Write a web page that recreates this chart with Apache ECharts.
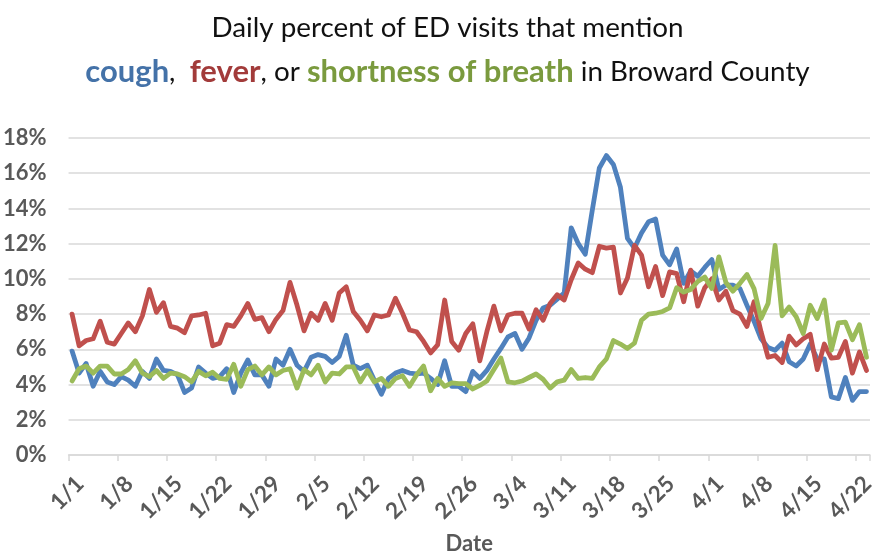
<!DOCTYPE html>
<html>
<head>
<meta charset="utf-8">
<script src="https://cdn.jsdelivr.net/npm/echarts@6/dist/echarts.min.js"></script>
<style>
html,body{margin:0;padding:0;background:#fff;}
#chart{width:895px;height:560px;}
</style>
</head>
<body>
<div id="chart"></div>
<script>
const dates = [
'1/1','1/2','1/3','1/4','1/5','1/6','1/7','1/8','1/9','1/10','1/11','1/12','1/13','1/14','1/15','1/16','1/17','1/18','1/19','1/20','1/21','1/22','1/23','1/24','1/25','1/26','1/27','1/28','1/29','1/30','1/31',
'2/1','2/2','2/3','2/4','2/5','2/6','2/7','2/8','2/9','2/10','2/11','2/12','2/13','2/14','2/15','2/16','2/17','2/18','2/19','2/20','2/21','2/22','2/23','2/24','2/25','2/26','2/27','2/28','2/29',
'3/1','3/2','3/3','3/4','3/5','3/6','3/7','3/8','3/9','3/10','3/11','3/12','3/13','3/14','3/15','3/16','3/17','3/18','3/19','3/20','3/21','3/22','3/23','3/24','3/25','3/26','3/27','3/28','3/29','3/30','3/31',
'4/1','4/2','4/3','4/4','4/5','4/6','4/7','4/8','4/9','4/10','4/11','4/12','4/13','4/14','4/15','4/16','4/17','4/18','4/19','4/20','4/21','4/22','4/23'
];

const cough = [
5.9,4.65,5.2,3.9,4.75,4.15,4.0,4.45,4.25,3.9,4.75,4.35,5.45,4.8,4.75,4.55,3.55,3.8,5.0,4.65,4.35,4.45,4.9,3.55,4.65,5.4,4.55,4.55,3.9,5.45,5.1,
6.0,5.1,4.75,5.55,5.7,5.6,5.25,5.6,6.8,5.1,4.9,5.1,4.25,3.45,4.35,4.65,4.8,4.65,4.6,4.65,4.35,4.0,5.35,3.9,3.9,3.6,4.75,4.35,
4.8,5.45,6.05,6.7,6.9,6.0,6.65,7.65,8.35,8.5,8.85,9.2,12.9,12.0,11.4,13.9,16.3,17.0,16.5,15.2,12.3,11.75,12.6,13.25,13.4,11.35,10.8,11.7,9.75,10.45,10.15,10.65,
11.1,9.4,9.65,9.65,9.45,8.5,7.6,6.6,6.1,5.95,6.35,5.3,5.05,5.45,6.3,5.45,5.45,3.3,3.2,4.4,3.1,3.6,3.6
];

const fever = [
8.0,6.2,6.5,6.6,7.6,6.4,6.3,6.9,7.5,7.0,7.9,9.4,8.1,8.65,7.3,7.2,6.95,7.9,7.95,8.05,6.2,6.35,7.4,7.3,7.9,8.6,7.7,7.8,7.0,7.7,8.2,
9.8,8.5,7.05,8.05,7.65,8.6,7.65,9.2,9.55,8.15,7.65,7.05,7.95,7.85,7.95,8.9,8.05,7.1,7.0,6.45,5.8,6.25,8.8,6.45,5.95,6.9,7.45,5.35,
7.0,8.45,7.05,7.95,8.05,8.05,7.15,8.25,7.65,8.6,9.1,8.8,9.95,10.9,10.55,10.35,11.85,11.75,11.8,9.2,10.05,11.9,11.35,9.55,10.7,9.05,10.4,10.3,8.7,10.5,8.45,9.5,
10.0,8.8,9.3,8.2,8.0,7.3,8.7,7.0,5.55,5.65,5.25,6.75,6.25,6.6,6.85,4.85,6.3,5.5,5.55,6.45,4.65,5.85,4.8
];

const breath = [
4.2,4.9,5.05,4.65,5.05,5.05,4.6,4.6,4.85,5.35,4.65,4.45,4.8,4.35,4.65,4.6,4.45,4.15,4.75,4.5,4.7,4.35,4.3,5.15,3.9,4.85,5.05,4.55,5.0,4.55,4.8,
4.9,3.8,4.85,4.55,5.1,4.15,4.65,4.6,5.0,5.0,4.15,4.8,4.15,4.35,3.9,4.35,4.5,3.9,4.55,5.05,3.65,4.35,3.9,4.1,4.05,4.05,3.75,3.95,
4.2,4.85,5.5,4.15,4.1,4.2,4.4,4.6,4.3,3.8,4.15,4.25,4.85,4.35,4.4,4.35,5.0,5.45,6.5,6.3,6.05,6.35,7.65,8.0,8.05,8.15,8.35,9.5,9.25,9.4,9.85,10.1,
9.45,11.25,9.8,9.3,9.75,10.25,9.45,7.75,8.6,11.9,7.9,8.4,7.85,6.9,8.5,7.75,8.8,5.95,7.5,7.55,6.55,7.4,5.55
];

const yTicks = {min: 0, max: 18, interval: 2};

const FONT = 'Lato, "Open Sans", sans-serif';
const GRAY = '#595959';

const chart = echarts.init(document.getElementById('chart'));

function lineSeries(name, data, color) {
  return {
    name: name,
    type: 'line',
    data: data,
    symbol: 'none',
    smooth: false,
    animation: false,
    lineStyle: {color: color, width: 4.8, join: 'round', cap: 'round'},
    itemStyle: {color: color}
  };
}

chart.setOption({
  animation: false,
  backgroundColor: '#fff',
  title: {
    left: 'center',
    top: 6,
    padding: 0,
    text: 'Daily percent of ED visits that mention\n{c|cough},  {f|fever}, or {s|shortness of breath} in Broward County',
    textStyle: {
      fontFamily: FONT,
      fontSize: 27.8,
      fontWeight: 'normal',
      color: '#111',
      lineHeight: 44,
      rich: {
        c: {fontFamily: FONT, fontSize: 31, fontWeight: 'bold', color: '#4472A8', lineHeight: 44},
        f: {fontFamily: FONT, fontSize: 31, fontWeight: 'bold', color: '#A23B3A', lineHeight: 44},
        s: {fontFamily: FONT, fontSize: 31, fontWeight: 'bold', color: '#7A9A3E', lineHeight: 44}
      }
    }
  },
  grid: {left: 66, right: 25, top: 138, bottom: 105, containLabel: false},
  xAxis: {
    type: 'category',
    data: dates,
    boundaryGap: true,
    name: 'Date',
    nameLocation: 'middle',
    nameGap: 78,
    nameTextStyle: {fontFamily: FONT, fontSize: 22, fontWeight: 'bold', color: GRAY},
    axisLine: {lineStyle: {color: '#D9D9D9', width: 1.5}},
    axisTick: {show: true, interval: 6, length: 6, lineStyle: {color: '#D9D9D9', width: 1.5}},
    axisLabel: {
      interval: 6,
      rotate: 45,
      margin: 17,
      verticalAlign: 'top',
      fontFamily: FONT,
      fontSize: 22.5,
      fontWeight: 'bold',
      color: GRAY
    },
    splitLine: {show: false}
  },
  yAxis: {
    type: 'value',
    min: yTicks.min,
    max: yTicks.max,
    interval: yTicks.interval,
    axisLine: {show: false},
    axisTick: {show: false},
    axisLabel: {
      formatter: '{value}%',
      margin: 22,
      fontFamily: FONT,
      fontSize: 22,
      fontWeight: 'bold',
      color: GRAY
    },
    splitLine: {lineStyle: {color: '#D9D9D9', width: 1.5}}
  },
  series: [
    lineSeries('cough', cough, '#4F81BD'),
    lineSeries('fever', fever, '#C0504D'),
    lineSeries('shortness of breath', breath, '#9BBB59')
  ]
});
</script>
</body>
</html>
